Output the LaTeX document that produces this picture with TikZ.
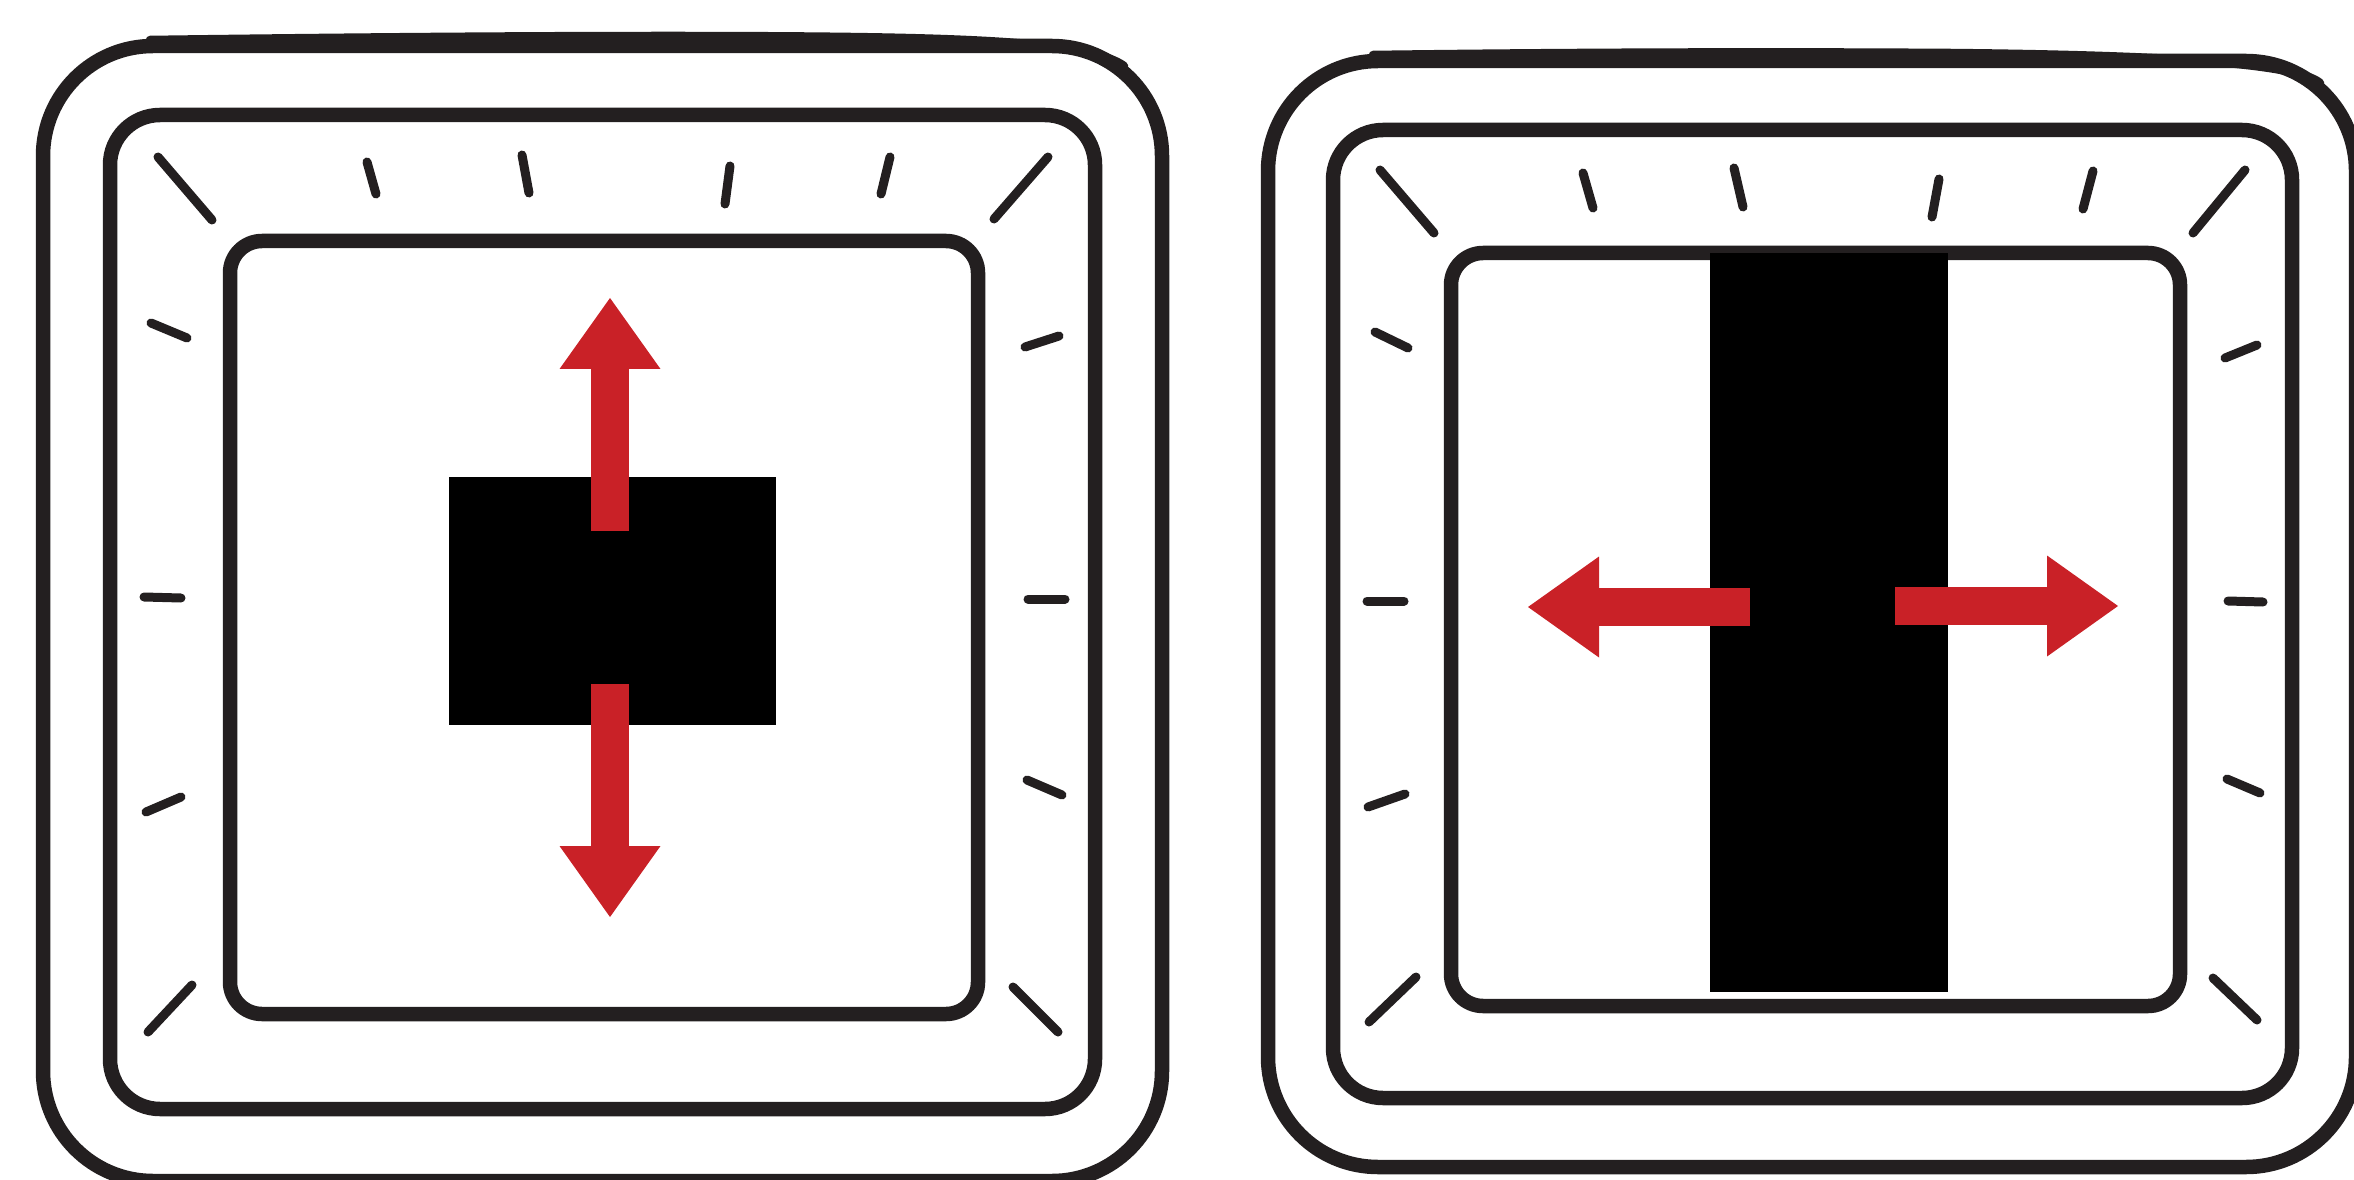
\documentclass[tikz,border=0pt]{standalone}
\usepackage{tikz}
\usetikzlibrary{arrows.meta}
\definecolor{frameInk}{RGB}{35,31,32}
\definecolor{pushRed}{RGB}{201,33,39}

\begin{document}
\begin{tikzpicture}[x=0.1mm,y=-0.1mm,
    frame/.style={draw=frameInk, line width=1.45mm},
    sketch/.style={draw=frameInk, line width=0.85mm, line cap=round},
    tick/.style={draw=frameInk, line width=0.9mm, line cap=round},
    block/.style={fill=black},
    push/.style={draw=pushRed, line width=3.85mm,
        -{Triangle[length=7.1mm,width=10.1mm,line width=0pt]}}]
    \useasboundingbox (0,0) rectangle (2354,1180);
    \clip (0,0) rectangle (2354,1180);

    % left panel: frames
    \draw[frame, rounded corners=11mm] (43,46) rectangle (1162,1181);
    \draw[sketch] (150,40) .. controls (450,36) and (700,35) .. (850,37)
        .. controls (1000,39) and (1095,45) .. (1124,66);
    \draw[frame, rounded corners=5mm] (110,115) rectangle (1095,1109);
    \draw[frame, rounded corners=3.2mm] (230,241) rectangle (978,1014);

    % left panel: ticks
    \foreach \xa/\ya/\xb/\yb in {158/157/212/220, 367/162/376/194, 522/155/529/193,
        730/166/725/204, 890/157/881/194, 1048/157/994/219,
        151/323/187/338, 1059/336/1025/347, 144/597/181/598, 1028/599/1065/599,
        181/797/146/812, 1027/780/1062/795, 192/985/148/1032, 1013/987/1058/1032}
        \draw[tick] (\xa,\ya) -- (\xb,\yb);

    % left panel: block and arrows
    \fill[block] (449,477) rectangle (776,725);
    \coordinate (upFrom) at (610,531);
    \coordinate (upTo) at (610,298);
    \coordinate (downFrom) at (610,684);
    \coordinate (downTo) at (610,917);
    \draw[push] (upFrom) -- (upTo);
    \draw[push] (downFrom) -- (downTo);

    % right panel: frames
    \draw[frame, rounded corners=11mm] (1268,61) rectangle (2356,1167);
    \draw[sketch] (1373,55) .. controls (1600,52) and (1800,52) .. (1950,53)
        .. controls (2150,55) and (2295,62) .. (2320,83);
    \draw[frame, rounded corners=5mm] (1333,130) rectangle (2292,1098);
    \draw[frame, rounded corners=3.2mm] (1451,253) rectangle (2180,1006);

    % right panel: ticks
    \foreach \xa/\ya/\xb/\yb in {1380/170/1434/233, 1583/173/1593/208, 1734/168/1743/207,
        1939/179/1932/217, 2093/171/2083/209, 2245/170/2193/233,
        1375/332/1408/348, 2257/345/2225/358, 1367/601/1404/601, 2228/601/2263/602,
        1368/807/1405/794, 2227/779/2260/793, 1369/1022/1416/977, 2213/978/2257/1020}
        \draw[tick] (\xa,\ya) -- (\xb,\yb);

    % right panel: block and arrows
    \fill[block] (1710,253) rectangle (1948,992);
    \coordinate (leftFrom) at (1750,607);
    \coordinate (leftTo) at (1528,607);
    \coordinate (rightFrom) at (1895,606);
    \coordinate (rightTo) at (2118,606);
    \draw[push] (leftFrom) -- (leftTo);
    \draw[push] (rightFrom) -- (rightTo);
\end{tikzpicture}
\end{document}
